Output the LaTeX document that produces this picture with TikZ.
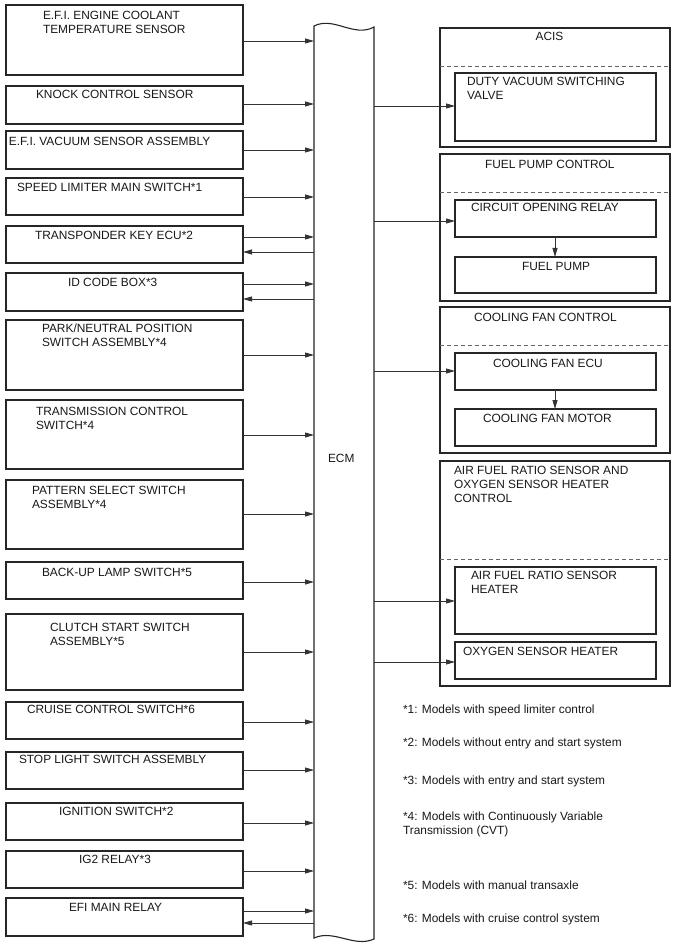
\documentclass[tikz,border=0pt]{standalone}
\usepackage{fontspec}
\setmainfont{Liberation Sans}
\usetikzlibrary{arrows.meta,calc}
\newcommand{\bxnode}[5]{\node[bx, minimum width={(#4-#2)*1pt}, minimum height={(#5-#3)*1pt}] (#1) at ({(#2+#4)/2},{(#3+#5)/2}) {};}
\begin{document}
\begin{tikzpicture}[x=1pt,y=-1pt,
  bx/.style={draw=black!85, line width=1.1pt, inner sep=0pt, outer sep=0pt, rectangle},
  txt/.style={inner sep=0pt, outer sep=0pt, anchor=base west, align=left, text=black!90,
    font=\fontsize{11.9}{14}\selectfont},
  conn/.style={draw=black!80, line width=0.8pt, -{Triangle[length=9pt,width=5pt]}},
  dsh/.style={draw=black!60, line width=0.8pt, dash pattern=on 4pt off 3pt}]
\useasboundingbox (0,0) rectangle (688,949);
\fill[white] (0,0) rectangle (688,949);

% ECM
\node[inner sep=0pt, outer sep=0pt, minimum width=60pt, minimum height=912pt] (ecm) at (344,482) {};
\draw[black!85, line width=1.1pt] (314,26) .. controls (334,16) and (354,38) .. (374,27)
  -- (374,939) .. controls (354,948) and (334,929) .. (314,938) -- cycle;
\node[txt] (ecmt) at (328,462.5) {ECM};

% left boxes
\bxnode{b1}{6}{5}{243}{75}
\bxnode{b2}{6}{86}{243}{124}
\bxnode{b3}{6}{131}{243}{169}
\bxnode{b4}{6}{178}{243}{215}
\bxnode{b5}{6}{226}{243}{263}
\bxnode{b6}{6}{273}{243}{311}
\bxnode{b7}{6}{320}{243}{390}
\bxnode{b8}{6}{400}{243}{469}
\bxnode{b9}{6}{480}{243}{549}
\bxnode{b10}{6}{562}{243}{599}
\bxnode{b11}{6}{614}{243}{690}
\bxnode{b12}{6}{702}{243}{739}
\bxnode{b13}{6}{752}{243}{789}
\bxnode{b14}{6}{803}{243}{840}
\bxnode{b15}{6}{851}{243}{888}
\bxnode{b16}{6}{898}{243}{936}

% (multi-line texts: anchor is the baseline of the last line)
\node[txt] (t1) at (43,34) {E.F.I. ENGINE COOLANT\\TEMPERATURE SENSOR};
\node[txt] (t2) at (36,98.5) {KNOCK CONTROL SENSOR};
\node[txt] (t3) at (9,145.5) {E.F.I. VACUUM SENSOR ASSEMBLY};
\node[txt] (t4) at (17,191.5) {SPEED LIMITER MAIN SWITCH*1};
\node[txt] (t5) at (35,239.5) {TRANSPONDER KEY ECU*2};
\node[txt] (t6) at (68,286.5) {ID CODE BOX*3};
\node[txt] (t7) at (42,346.5) {PARK/NEUTRAL POSITION\\SWITCH ASSEMBLY*4};
\node[txt] (t8) at (36,429.5) {TRANSMISSION CONTROL\\SWITCH*4};
\node[txt] (t9) at (32,508.5) {PATTERN SELECT SWITCH\\ASSEMBLY*4};
\node[txt] (t10) at (42,576.5) {BACK-UP LAMP SWITCH*5};
\node[txt] (t11) at (50,645.5) {CLUTCH START SWITCH\\ASSEMBLY*5};
\node[txt] (t12) at (27,713.5) {CRUISE CONTROL SWITCH*6};
\node[txt] (t13) at (19,763.5) {STOP LIGHT SWITCH ASSEMBLY};
\node[txt] (t14) at (59,815.5) {IGNITION SWITCH*2};
\node[txt] (t15) at (79,863.5) {IG2 RELAY*3};
\node[txt] (t16) at (69,911.5) {EFI MAIN RELAY};

% left connectors
\foreach \b/\y in {b1/41,b2/104,b3/150,b4/197,b5/237,b6/284,b7/355,b8/435,b9/514,b10/582,b11/652,b12/722,b13/770,b14/823,b15/871,b16/911}
  \draw[conn] (\b.east |- 0,\y) -- (ecm.west |- 0,\y);
\foreach \b/\y in {b5/252,b6/299,b16/923}
  \draw[conn] (ecm.west |- 0,\y) -- (\b.east |- 0,\y);

% right groups
\bxnode{g1}{440}{28}{670}{147}
\draw[dsh] (g1.west |- 0,66) -- (g1.east |- 0,66);
\bxnode{r1}{455}{73}{656}{141}
\node[txt, anchor=base] (g1t) at (549.5,40.5) {ACIS};
\node[txt] (r1t) at (467,99.5) {DUTY VACUUM SWITCHING\\VALVE};

\bxnode{g2}{440}{154}{670}{301}
\draw[dsh] (g2.west |- 0,192) -- (g2.east |- 0,192);
\bxnode{r2}{455}{200}{656}{237}
\bxnode{r3}{455}{257}{656}{293}
\node[txt] (g2t) at (485,168.5) {FUEL PUMP CONTROL};
\node[txt] (r2t) at (471,211.5) {CIRCUIT OPENING RELAY};
\node[txt] (r3t) at (522,270.5) {FUEL PUMP};

\bxnode{g3}{440}{307}{670}{453}
\draw[dsh] (g3.west |- 0,345) -- (g3.east |- 0,345);
\bxnode{r4}{455}{353}{656}{390}
\bxnode{r5}{455}{409}{656}{446}
\node[txt] (g3t) at (474,321.5) {COOLING FAN CONTROL};
\node[txt] (r4t) at (493,367.5) {COOLING FAN ECU};
\node[txt] (r5t) at (483,422.5) {COOLING FAN MOTOR};

\bxnode{g4}{440}{461}{670}{686}
\draw[dsh] (g4.west |- 0,559) -- (g4.east |- 0,559);
\bxnode{r6}{455}{567}{656}{634}
\bxnode{r7}{455}{642}{656}{679}
\node[txt] (g4t) at (454,502.5) {AIR FUEL RATIO SENSOR AND\\OXYGEN SENSOR HEATER\\CONTROL};
\node[txt] (r6t) at (471,593.5) {AIR FUEL RATIO SENSOR\\HEATER};
\node[txt] (r7t) at (463,655.5) {OXYGEN SENSOR HEATER};

% right connectors
\foreach \b/\y in {r1/106,r2/221,r4/371,r6/601,r7/662}
  \draw[conn] (ecm.east |- 0,\y) -- (\b.west |- 0,\y);
\draw[conn] (r2.south -| 555,0) -- (r3.north -| 555,0);
\draw[conn] (r4.south -| 555,0) -- (r5.north -| 555,0);

% footnotes
\node[txt] (f1) at (403,713.5) {*1: Models with speed limiter control};
\node[txt] (f2) at (403,746.5) {*2: Models without entry and start system};
\node[txt] (f3) at (403,784.5) {*3: Models with entry and start system};
\node[txt] (f4) at (403,834.5) {*4: Models with Continuously Variable\\Transmission (CVT)};
\node[txt] (f5) at (403,889.5) {*5: Models with manual transaxle};
\node[txt] (f6) at (403,922.5) {*6: Models with cruise control system};
\end{tikzpicture}
\end{document}
